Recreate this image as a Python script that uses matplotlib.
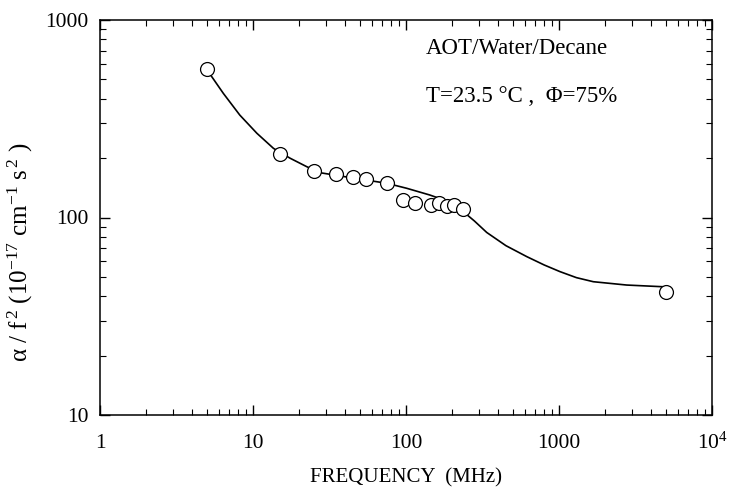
import numpy as np
import matplotlib
matplotlib.use('Agg')
import matplotlib.pyplot as plt
from matplotlib.ticker import FixedLocator, LogLocator, NullFormatter

plt.rcParams['font.family'] = ['Liberation Serif', 'DejaVu Serif']
plt.rcParams['mathtext.fontset'] = 'custom'
plt.rcParams['mathtext.rm'] = 'Liberation Serif'
plt.rcParams['mathtext.it'] = 'Liberation Serif:italic'

# measured points
freq = [5, 15, 25, 35, 45, 55, 75, 95, 115, 145, 165, 185, 205, 235, 5000]
alpha_f2 = [563, 210, 172, 167, 161, 156, 150, 122, 118, 116, 118, 114, 116, 110, 42]

# fitted curve
curve_f = [5, 6.4, 8.2, 10.6, 13.6, 17.5, 22.4, 27.4, 45, 75, 101, 143, 175, 204,
           237, 280, 337, 450, 615, 800, 1015, 1300, 1676, 2770, 4800]
curve_v = [560, 425, 330, 267, 224, 199.5, 181, 168.6, 158.5, 149, 140.6, 130,
           123, 115.7, 107, 96, 84, 72, 63.4, 57.5, 53.2, 49.6, 47.3, 45.5, 44.6]

xticks = [1, 10, 100, 1000, 10000]
xticklabels = ['1', '10', '100', '1000', r'10$^{4}$']
yticks = [10, 100, 1000]
yticklabels = ['10', '100', '1000']

W, H = 731, 492
fig = plt.figure(figsize=(W / 100, H / 100), dpi=100)
ax = fig.add_axes([100 / W, 1 - 415 / H, 612 / W, 395 / H])

ax.plot(curve_f, curve_v, color='black', lw=1.2, zorder=2)
ax.plot(freq, alpha_f2, 'o', ms=10, mfc='white', mec='black', mew=0.9, zorder=3)

ax.set_xscale('log')
ax.set_yscale('log')
ax.set_xlim(1, 10000)
ax.set_ylim(10, 1000)

ax.xaxis.set_major_locator(FixedLocator(xticks))
ax.set_xticklabels(xticklabels, va='baseline')
ax.yaxis.set_major_locator(FixedLocator(yticks))
ax.set_yticklabels(yticklabels)
ax.xaxis.set_minor_locator(LogLocator(base=10, subs=np.arange(2, 10)))
ax.yaxis.set_minor_locator(LogLocator(base=10, subs=np.arange(2, 10)))
ax.xaxis.set_minor_formatter(NullFormatter())
ax.yaxis.set_minor_formatter(NullFormatter())

ax.tick_params(which='both', direction='in', top=True, right=True, labelsize=15.5)
ax.tick_params(which='major', length=7, width=1)
ax.tick_params(which='minor', length=4, width=0.8)
ax.tick_params(axis='x', which='major', pad=24)
ax.tick_params(axis='y', which='major', pad=8)
for s in ax.spines.values():
    s.set_linewidth(1.1)

fig.text(406 / W, 1 - 478 / H, 'FREQUENCY  (MHz)', fontsize=15, ha='center', va='center')
fig.text(20 / W, 1 - 252 / H, r'α / f$^{\,2}$ (10$^{-17}$ cm$^{-1}$ s$^{\,2}$ )',
         fontsize=18, rotation=90, ha='center', va='center')

fig.text(426 / W, 1 - 48 / H, 'AOT/Water/Decane', fontsize=16.5, va='center')
fig.text(426 / W, 1 - 96 / H, 'T=23.5 °C ,  Φ=75%', fontsize=16.5, va='center')

fig.savefig('out.png', dpi=100)
